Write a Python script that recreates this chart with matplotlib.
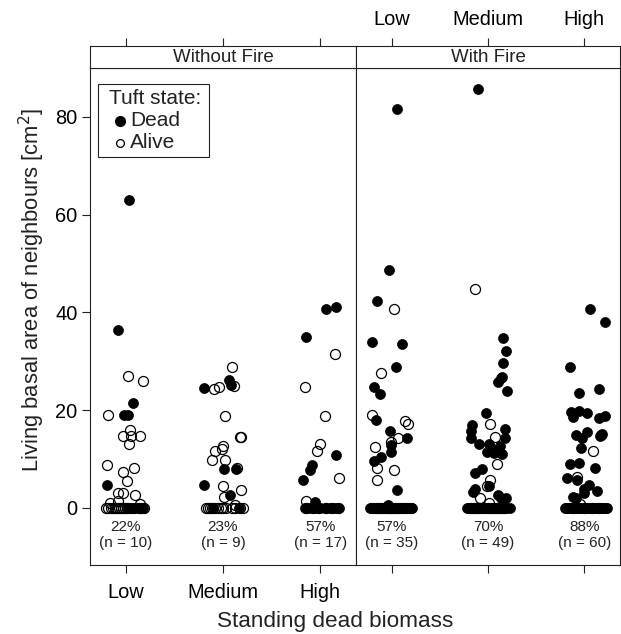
import matplotlib.pyplot as plt
from matplotlib.patches import Rectangle
from matplotlib.lines import Line2D

plt.rcParams['font.family'] = ['Liberation Sans', 'DejaVu Sans']

levels = ['Low', 'Medium', 'High']
panels = ['Without Fire', 'With Fire']
mortality = [['22%', '23%', '57%'], ['57%', '70%', '88%']]
n_dead = [[10, 9, 17], [35, 49, 60]]

# (jitter, basal area) pairs, one list per group and tuft state
nofire_low_dead = [(0.03, 63.0), (-0.08, 36.4), (0.07, 21.5), (-0.02, 19.0), (0.02, 19.0),
                   (-0.19, 4.7), (0.02, 0), (0.07, 0), (0.12, 0), (0.18, 0)]
nofire_low_alive = [(0.02, 27.0), (0.18, 25.9), (-0.18, 19.0), (0.04, 16.0), (-0.03, 14.7),
                    (0.05, 14.7), (0.15, 14.7), (0.03, 13.0), (-0.19, 8.7), (0.08, 8.1),
                    (-0.03, 7.4), (0.01, 5.6), (-0.08, 3.1), (-0.03, 3.1), (0.09, 2.7),
                    (-0.08, 1.4), (-0.16, 1.0), (0.15, 0.8),
                    (-0.21, 0), (-0.18, 0), (-0.15, 0), (-0.13, 0), (-0.11, 0), (-0.09, 0),
                    (-0.07, 0), (-0.05, 0), (-0.03, 0), (-0.01, 0), (0.01, 0), (0.04, 0),
                    (0.08, 0), (0.13, 0), (0.16, 0), (0.19, 0)]

nofire_med_dead = [(-0.20, 24.6), (0.06, 26.2), (0.08, 25.1), (0.01, 8.0), (0.13, 8.0),
                   (-0.20, 4.8), (0.07, 2.7), (-0.10, 0), (0.16, 0)]
nofire_med_alive = [(0.09, 28.8), (-0.09, 24.4), (-0.04, 24.8), (0.11, 25.0), (0.02, 18.8),
                    (0.18, 14.5), (0.19, 14.6), (0.00, 12.7), (-0.01, 12.0), (-0.08, 11.7),
                    (-0.11, 9.8), (0.02, 9.8), (0.14, 8.2), (0.00, 4.6), (0.19, 3.7),
                    (0.01, 2.3), (0.12, 0.6),
                    (-0.17, 0), (-0.15, 0), (-0.13, 0), (-0.11, 0), (-0.08, 0), (-0.05, 0),
                    (-0.02, 0), (0.00, 0), (0.03, 0), (0.09, 0), (0.12, 0), (0.18, 0), (0.21, 0)]

nofire_high_dead = [(0.06, 40.7), (0.16, 41.2), (-0.15, 34.9), (0.16, 10.9), (-0.08, 8.7),
                    (-0.10, 7.7), (-0.18, 5.7), (-0.05, 1.3),
                    (-0.16, 0), (-0.12, 0), (-0.08, 0), (-0.04, 0), (0.00, 0), (0.05, 0),
                    (0.10, 0), (0.15, 0), (0.20, 0)]
nofire_high_alive = [(0.15, 31.4), (-0.16, 24.8), (0.05, 18.8), (0.00, 13.1), (-0.03, 11.7),
                     (0.20, 6.1), (-0.15, 1.4),
                     (-0.14, 0), (-0.07, 0), (-0.01, 0), (0.06, 0), (0.12, 0), (0.18, 0)]

fire_low_dead = [(0.06, 81.6), (-0.03, 48.7), (-0.15, 42.4), (-0.20, 34.0), (0.11, 33.5),
                 (0.04, 28.9), (-0.18, 24.8), (-0.12, 23.3), (-0.16, 18.1), (-0.02, 15.8),
                 (0.16, 14.3), (-0.01, 12.9), (-0.01, 11.4), (-0.11, 10.5), (-0.18, 9.7),
                 (0.06, 3.7), (-0.04, 0.6),
                 (-0.22, 0), (-0.19, 0), (-0.17, 0), (-0.14, 0), (-0.12, 0), (-0.09, 0),
                 (-0.07, 0), (-0.05, 0), (-0.03, 0), (-0.01, 0), (0.01, 0), (0.03, 0),
                 (0.06, 0), (0.09, 0), (0.12, 0), (0.15, 0), (0.18, 0), (0.21, 0)]
fire_low_alive = [(0.02, 40.7), (-0.11, 27.6), (-0.20, 19.0), (0.14, 17.8), (0.17, 17.2),
                  (-0.01, 13.6), (0.07, 14.3), (-0.17, 12.5), (-0.15, 8.1), (0.02, 7.8),
                  (-0.15, 5.7),
                  (-0.20, 0), (-0.16, 0), (-0.13, 0), (-0.10, 0), (-0.07, 0), (-0.04, 0),
                  (-0.02, 0), (0.00, 0), (0.02, 0), (0.05, 0), (0.08, 0), (0.11, 0),
                  (0.14, 0), (0.17, 0), (0.20, 0)]

fire_med_dead = [(-0.10, 85.7), (0.16, 34.7), (0.19, 32.1), (0.16, 29.6), (0.13, 26.5),
                 (0.15, 26.7), (0.10, 25.8), (0.20, 23.9), (-0.02, 19.4), (-0.17, 17.0),
                 (-0.18, 15.8), (-0.18, 14.3), (0.18, 16.1), (0.18, 14.3), (-0.09, 13.1),
                 (0.01, 13.1), (0.03, 12.2), (0.12, 12.7), (-0.01, 11.5), (0.06, 11.2),
                 (0.15, 11.0), (-0.06, 8.0), (-0.13, 7.2), (-0.16, 3.3), (-0.13, 3.8),
                 (0.01, 4.5), (0.10, 2.7), (0.19, 2.0), (0.14, 2.0),
                 (-0.22, 0), (-0.20, 0), (-0.18, 0), (-0.16, 0), (-0.14, 0), (-0.12, 0),
                 (-0.10, 0), (-0.08, 0), (-0.06, 0), (-0.04, 0), (-0.02, 0), (0.00, 0),
                 (0.02, 0), (0.04, 0), (0.06, 0), (0.10, 0), (0.14, 0), (0.17, 0),
                 (0.20, 0), (0.23, 0)]
fire_med_alive = [(-0.14, 44.8), (0.02, 17.2), (0.07, 14.6), (0.09, 8.9), (0.02, 5.7),
                  (-0.01, 4.5), (-0.08, 2.0), (0.01, 1.1),
                  (-0.18, 0), (-0.15, 0), (-0.12, 0), (-0.09, 0), (-0.06, 0), (-0.03, 0),
                  (0.00, 0), (0.03, 0), (0.06, 0), (0.08, 0), (0.11, 0), (0.14, 0), (0.17, 0)]

fire_high_dead = [(0.06, 40.7), (0.21, 38.1), (-0.15, 28.8), (-0.06, 23.5), (0.15, 24.3),
                  (-0.14, 19.7), (-0.12, 18.6), (-0.06, 19.8), (0.03, 19.4), (0.15, 18.5),
                  (0.21, 18.9), (-0.09, 14.9), (-0.02, 14.3), (0.03, 15.6), (0.16, 14.8),
                  (0.18, 15.1), (-0.03, 12.2), (-0.15, 8.9), (-0.06, 9.3), (0.11, 8.1),
                  (-0.18, 6.1), (-0.08, 5.7), (0.00, 3.8), (0.05, 4.7), (0.13, 3.5),
                  (-0.12, 2.3), (-0.09, 2.0), (0.00, 3.0),
                  (-0.20, 0), (-0.19, 0), (-0.18, 0), (-0.17, 0), (-0.16, 0), (-0.14, 0),
                  (-0.13, 0), (-0.11, 0), (-0.10, 0), (-0.08, 0), (-0.07, 0), (-0.05, 0),
                  (-0.04, 0), (-0.02, 0), (-0.01, 0), (0.01, 0), (0.02, 0), (0.04, 0),
                  (0.05, 0), (0.06, 0), (0.07, 0), (0.08, 0), (0.10, 0), (0.11, 0),
                  (0.13, 0), (0.14, 0), (0.16, 0), (0.17, 0), (0.19, 0), (0.20, 0),
                  (0.22, 0), (0.23, 0)]
fire_high_alive = [(0.17, 15.0), (0.09, 11.7), (-0.08, 6.3), (-0.04, 0.8),
                   (-0.12, 0), (0.00, 0), (0.08, 0), (0.15, 0)]

groups = [[(nofire_low_dead, nofire_low_alive), (nofire_med_dead, nofire_med_alive),
           (nofire_high_dead, nofire_high_alive)],
          [(fire_low_dead, fire_low_alive), (fire_med_dead, fire_med_alive),
           (fire_high_dead, fire_high_alive)]]

#-----------------LAYOUT (pixels of a 621x634 canvas)---------------------#
W, H = 621, 634
panel_x = [(90, 356), (356, 620)]
strip_top, strip_bot, panel_bot = 46, 68, 565
ink = '#222222'
dot = 7.2  # marker size in points

fig = plt.figure(figsize=(W / 100, H / 100), dpi=100)

def frac_x(px):
    return px / W

def frac_y(py):
    return 1 - py / H

for i, (x0, x1) in enumerate(panel_x):
    ax = fig.add_axes([frac_x(x0), frac_y(panel_bot), (x1 - x0) / W, (panel_bot - strip_bot) / H])
    ax.set_xlim(0.63, 3.37)
    ax.set_ylim(-11.66, 90.0)

    for j, (dead, alive) in enumerate(groups[i]):
        pos = j + 1
        ax.plot([pos + d for d, v in alive], [v for d, v in alive], 'o', ms=dot,
                mfc='none', mec='black', mew=0.9, ls='none', clip_on=False)
        ax.plot([pos + d for d, v in dead], [v for d, v in dead], 'o', ms=dot,
                mfc='black', mec='black', mew=0.5, ls='none', clip_on=False)
        ax.text(pos, -3.9, mortality[i][j], ha='center', va='center', fontsize=11, color=ink)
        ax.text(pos, -7.1, '(n = %d)' % n_dead[i][j], ha='center', va='center', fontsize=11, color=ink)

    ax.set_xticks([1, 2, 3])
    ax.set_xticklabels(levels)
    ax.tick_params(axis='x', direction='out', length=6, width=0.8, color=ink,
                   labelsize=14.4, pad=7, labelbottom=(i == 0))
    if i == 0:
        ax.set_yticks([0, 20, 40, 60, 80])
        ax.tick_params(axis='y', direction='out', length=6, width=0.8, color=ink,
                       labelsize=14.4, pad=3)
    else:
        ax.tick_params(axis='y', left=False, labelleft=False)
    for s in ax.spines.values():
        s.set_linewidth(0.8)
        s.set_color(ink)

    # strip on top of each panel
    st = fig.add_axes([frac_x(x0), frac_y(strip_bot), (x1 - x0) / W, (strip_bot - strip_top) / H])
    st.set_xlim(0.63, 3.37)
    st.set_ylim(0, 1)
    st.set_yticks([])
    st.set_xticks([1, 2, 3])
    st.set_xticklabels(levels)
    st.tick_params(axis='x', bottom=False, top=True, labelbottom=False, labeltop=(i == 1),
                   direction='out', length=6, width=0.8, color=ink, labelsize=14.4, pad=6)
    st.text(0.5, 0.5, panels[i], transform=st.transAxes, ha='center', va='center',
            fontsize=13.5, color=ink)
    for s in st.spines.values():
        s.set_linewidth(0.8)
        s.set_color(ink)

#legend box drawn by hand, lattice style
fig.add_artist(Rectangle((frac_x(98), frac_y(157)), 111 / W, 73 / H, transform=fig.transFigure,
                         fill=False, lw=0.8, ec=ink))
fig.text(frac_x(109), frac_y(99), 'Tuft state:', fontsize=15, va='center', color=ink)
fig.add_artist(Line2D([frac_x(120)], [frac_y(121)], marker='o', ms=7.0, mfc='black', mec='black',
                      transform=fig.transFigure))
fig.add_artist(Line2D([frac_x(120)], [frac_y(143)], marker='o', ms=5.6, mfc='none', mec='black',
                      mew=0.9, transform=fig.transFigure))
fig.text(frac_x(130), frac_y(121), 'Dead', fontsize=15, va='center', color=ink)
fig.text(frac_x(130), frac_y(143), 'Alive', fontsize=15, va='center', color=ink)

fig.text(frac_x(32), frac_y(290), 'Living basal area of neighbours [cm$^2$]', rotation=90,
         ha='center', va='center', fontsize=15.8, color=ink)
fig.text(frac_x(335), frac_y(622), 'Standing dead biomass', ha='center', va='center',
         fontsize=16.2, color=ink)

fig.savefig('out.png', dpi=100)
